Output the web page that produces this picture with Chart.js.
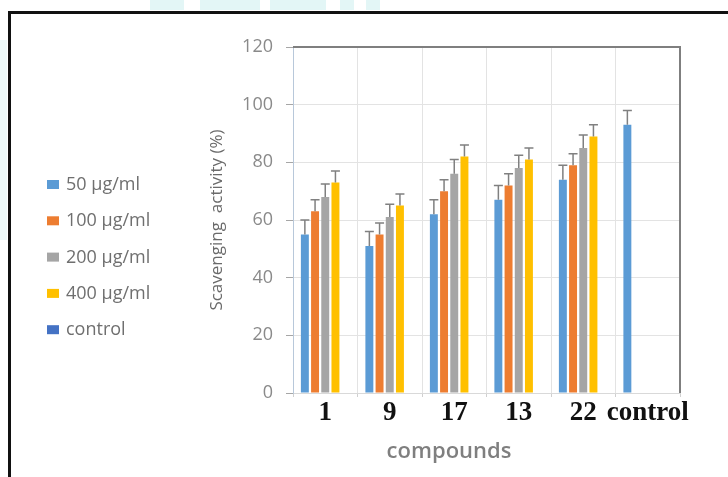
<!DOCTYPE html>
<html>
<head>
<meta charset="utf-8">
<script src="https://cdn.jsdelivr.net/npm/chart.js@4.4.0/dist/chart.umd.min.js"></script>
<style>
  html, body { margin: 0; padding: 0; background: #fff; }
  #wrap { position: relative; width: 728px; height: 477px; overflow: hidden; }
  .mark { position: absolute; background: #e3f6f6; }
  #frame { position: absolute; left: 8px; top: 11px; width: 800px; height: 600px;
           border-left: 3px solid #111; border-top: 3px solid #111; }
  canvas { position: absolute; left: 0; top: 0; }
</style>
</head>
<body>
<div id="wrap">
  <div class="mark" style="left:150px;top:0;width:34px;height:10px"></div>
  <div class="mark" style="left:200px;top:0;width:60px;height:10px"></div>
  <div class="mark" style="left:270px;top:0;width:56px;height:10px"></div>
  <div class="mark" style="left:340px;top:0;width:14px;height:10px"></div>
  <div class="mark" style="left:366px;top:0;width:14px;height:10px"></div>
  <div class="mark" style="left:0;top:40px;width:7px;height:200px;background:#eef9f9"></div>
  <div id="frame"></div>
  <canvas id="ScavChart" width="728" height="477"></canvas>
</div>
<script>
const ctx = document.getElementById('ScavChart').getContext('2d')

const compounds = ['1', '9', '17', '13', '22', 'control'];
const labels = ['50 \u00b5g/ml', '100 \u00b5g/ml', '200 \u00b5g/ml', '400 \u00b5g/ml', 'control'];
const colors = ['#5b9bd5', '#ed7d31', '#a5a5a5', '#ffc000', '#4472c4'];

const dose50 = [55, 51, 62, 67, 74, 93];
const dose100 = [63, 55, 70, 72, 79, null];
const dose200 = [68, 61, 76, 78, 85, null];
const dose400 = [73, 65, 82, 81, 89, null];
const control = [null, null, null, null, null, null];

const err50 = [5, 5, 5, 5, 5, 5];
const err100 = [4, 4, 4, 4, 4, null];
const err200 = [4.5, 4.5, 5, 4.5, 4.5, null];
const err400 = [4, 4, 4, 4, 4, null];
const errCtrl = [null, null, null, null, null, null];

const yTicks = [0, 20, 40, 60, 80, 100, 120];

const series = [dose50, dose100, dose200, dose400, control];
const errors = [err50, err100, err200, err400, errCtrl];

const data = {
    labels: compounds,
    datasets: series.map((vals, i) => ({
        label: labels[i],
        data: vals,
        errors: errors[i],
        backgroundColor: colors[i],
        categoryPercentage: 0.79,
        barPercentage: 0.78
    }))
};

// upward error bars with caps, Excel style
const errorBars = {
    id: 'errorBars',
    afterDatasetsDraw(chart) {
        const c = chart.ctx;
        const y = chart.scales.y;
        c.save();
        c.strokeStyle = '#808080';
        c.lineWidth = 1.5;
        chart.data.datasets.forEach((ds, di) => {
            const meta = chart.getDatasetMeta(di);
            meta.data.forEach((bar, i) => {
                const v = ds.data[i];
                const e = ds.errors[i];
                if (v == null || e == null) return;
                const top = y.getPixelForValue(v + e);
                c.beginPath();
                c.moveTo(bar.x, bar.y);
                c.lineTo(bar.x, top);
                c.moveTo(bar.x - 4.5, top);
                c.lineTo(bar.x + 4.5, top);
                c.stroke();
            });
        });
        c.restore();
    }
};

// plot frame, side legend and axis caption
const extras = {
    id: 'extras',
    afterDraw(chart) {
        const c = chart.ctx;
        const a = chart.chartArea;
        c.save();
        c.strokeStyle = '#7f7f7f';
        c.lineWidth = 2;
        c.beginPath();
        c.moveTo(a.left, a.top);
        c.lineTo(a.right, a.top);
        c.lineTo(a.right, a.bottom);
        c.stroke();

        c.font = '18px "Open Sans"';
        c.textBaseline = 'middle';
        c.textAlign = 'left';
        labels.forEach((lab, i) => {
            const ly = 185 + i * 36.3;
            c.fillStyle = colors[i];
            c.fillRect(47, ly - 5, 12, 9);
            c.fillStyle = '#6f6f6f';
            c.fillText(lab, 66, ly);
        });

        c.font = '600 22px "Open Sans"';
        c.fillStyle = '#7f7f7f';
        c.textAlign = 'center';
        c.fillText('compounds', 449, 452);
        c.restore();
    }
};

const config = {
    type: 'bar',
    data: data,
    options: {
        responsive: false,
        animation: false,
        layout: {
            padding: {left: 203, right: 48, top: 47, bottom: 0}
        },
        scales: {
            x: {
                grid: {
                    color: '#e3e3e3',
                    tickColor: '#d0d0d0',
                    tickLength: 4
                },
                border: {color: '#d9d9d9'},
                ticks: {
                    color: '#111',
                    padding: 0,
                    autoSkip: false,
                    minRotation: 0,
                    maxRotation: 0,
                    font: {family: '"Liberation Serif"', size: 27, weight: 'bold'}
                },
                afterFit(scale) { scale.height = 84; }
            },
            y: {
                min: 0,
                max: 120,
                afterBuildTicks(scale) {
                    scale.ticks = yTicks.map(v => ({value: v}));
                },
                grid: {
                    color: '#e3e3e3',
                    tickColor: '#a6a6a6',
                    tickLength: 7
                },
                border: {color: '#b8c8da'},
                ticks: {
                    color: '#8a8a8a',
                    padding: 13,
                    font: {family: '"Open Sans"', size: 18}
                },
                title: {
                    display: true,
                    text: 'Scavenging  activity (%)',
                    color: '#6a6a6a',
                    font: {family: '"Open Sans"', size: 17}
                },
                afterFit(scale) { scale.width = 90; }
            }
        },
        plugins: {
            legend: {display: false},
            tooltip: {enabled: false}
        }
    },
    plugins: [errorBars, extras]
};

const scavChart = new Chart(ctx, config);
</script>
</body>
</html>
